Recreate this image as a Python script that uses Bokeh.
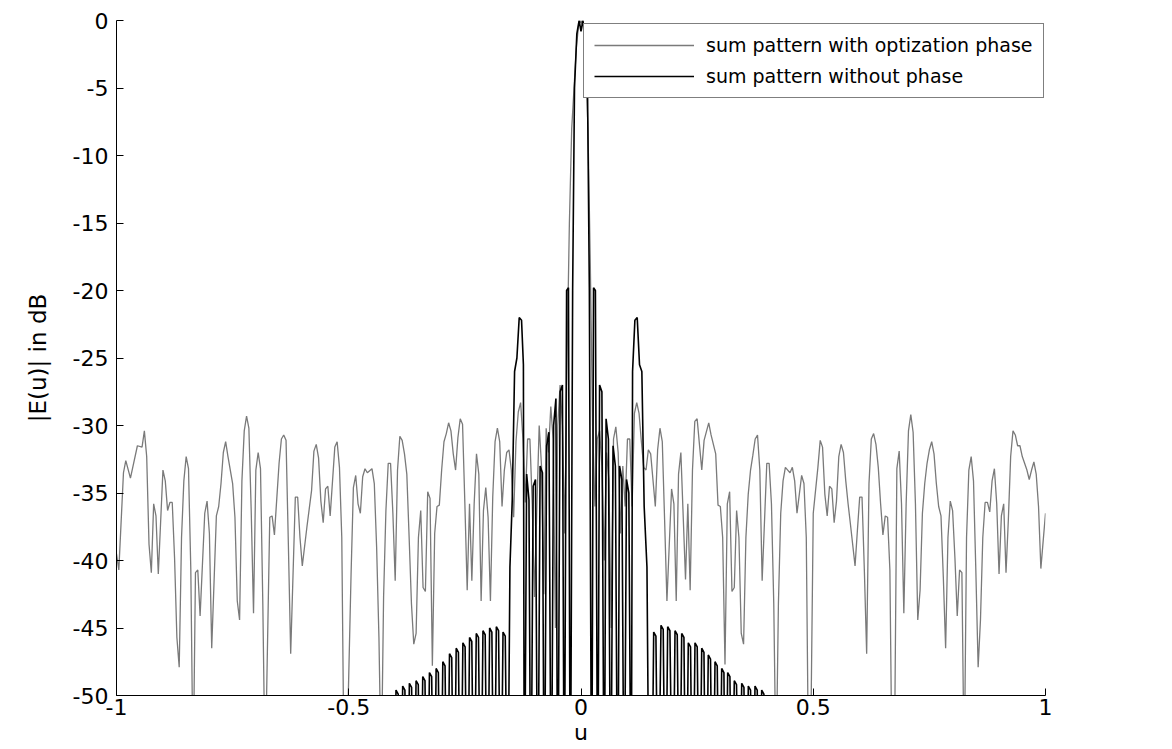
from bokeh.plotting import figure
from bokeh.models import Range1d, Legend, LegendItem
from bokeh.embed import file_html
from bokeh.resources import INLINE

# ---------------- data ----------------
# series 1: sum pattern with optization phase (gray)
opt_u = [
    -1.0, -0.995, -0.985, -0.98, -0.97, -0.955, -0.945, -0.94, -0.935, -0.93,
    -0.925, -0.92, -0.915, -0.91, -0.9, -0.895, -0.89, -0.885, -0.88, -0.875,
    -0.87, -0.865, -0.86, -0.855, -0.85, -0.845, -0.84, -0.835, -0.83, -0.825,
    -0.82, -0.81, -0.805, -0.8, -0.795, -0.785, -0.78, -0.775, -0.77, -0.765,
    -0.76, -0.75, -0.745, -0.74, -0.735, -0.73, -0.725, -0.72, -0.715, -0.71,
    -0.705, -0.7, -0.695, -0.69, -0.685, -0.68, -0.67, -0.665, -0.66, -0.65,
    -0.645, -0.64, -0.635, -0.63, -0.625, -0.615, -0.61, -0.605, -0.6, -0.59,
    -0.58, -0.575, -0.57, -0.565, -0.56, -0.555, -0.55, -0.545, -0.54, -0.53,
    -0.525, -0.52, -0.515, -0.51, -0.505, -0.495, -0.49, -0.485, -0.48, -0.475,
    -0.47, -0.465, -0.46, -0.45, -0.445, -0.44, -0.435, -0.43, -0.425, -0.42,
    -0.415, -0.41, -0.405, -0.4, -0.395, -0.39, -0.385, -0.38, -0.375, -0.37,
    -0.365, -0.36, -0.355, -0.35, -0.345, -0.34, -0.335, -0.33, -0.325, -0.32,
    -0.315, -0.31, -0.305, -0.3, -0.295, -0.29, -0.285, -0.28, -0.275, -0.27,
    -0.265, -0.26, -0.255, -0.25, -0.245, -0.24, -0.235, -0.23, -0.225, -0.22,
    -0.215, -0.21, -0.205, -0.2, -0.195, -0.19, -0.185, -0.18, -0.175, -0.17,
    -0.165, -0.16, -0.155, -0.15, -0.145, -0.14, -0.135, -0.13, -0.125, -0.12,
    -0.115, -0.11, -0.105, -0.1, -0.095, -0.09, -0.085, -0.08, -0.075, -0.07,
    -0.065, -0.06, -0.055, -0.05, -0.045, -0.04, -0.035, -0.03, -0.025, -0.02,
    -0.015, -0.01, -0.005, 0.0, 0.005, 0.01, 0.015, 0.02, 0.025, 0.03,
    0.035, 0.04, 0.045, 0.05, 0.055, 0.06, 0.065, 0.07, 0.075, 0.08,
    0.085, 0.09, 0.095, 0.1, 0.105, 0.11, 0.115, 0.12, 0.125, 0.13,
    0.135, 0.14, 0.145, 0.15, 0.16, 0.165, 0.17, 0.175, 0.18, 0.185,
    0.195, 0.2, 0.205, 0.21, 0.215, 0.225, 0.23, 0.235, 0.24, 0.245,
    0.25, 0.255, 0.26, 0.265, 0.275, 0.28, 0.29, 0.295, 0.3, 0.305,
    0.31, 0.315, 0.32, 0.325, 0.33, 0.335, 0.34, 0.345, 0.35, 0.355,
    0.36, 0.365, 0.37, 0.375, 0.38, 0.385, 0.39, 0.4, 0.405, 0.41,
    0.415, 0.42, 0.425, 0.43, 0.435, 0.44, 0.445, 0.45, 0.455, 0.46,
    0.465, 0.475, 0.48, 0.485, 0.49, 0.495, 0.5, 0.51, 0.515, 0.52,
    0.525, 0.53, 0.535, 0.54, 0.545, 0.55, 0.555, 0.56, 0.565, 0.57,
    0.575, 0.58, 0.59, 0.595, 0.6, 0.605, 0.61, 0.615, 0.62, 0.625,
    0.63, 0.635, 0.64, 0.645, 0.65, 0.655, 0.66, 0.665, 0.67, 0.675,
    0.68, 0.685, 0.69, 0.695, 0.7, 0.705, 0.71, 0.715, 0.72, 0.725,
    0.73, 0.735, 0.74, 0.745, 0.75, 0.755, 0.76, 0.765, 0.77, 0.775,
    0.78, 0.785, 0.79, 0.795, 0.8, 0.805, 0.81, 0.815, 0.82, 0.825,
    0.83, 0.835, 0.84, 0.845, 0.85, 0.855, 0.86, 0.865, 0.87, 0.875,
    0.88, 0.885, 0.89, 0.895, 0.9, 0.905, 0.91, 0.915, 0.92, 0.925,
    0.93, 0.935, 0.94, 0.945, 0.95, 0.96, 0.965, 0.97, 0.975, 0.98,
    0.985, 0.99, 1.0,
]
opt_db = [
    -39.5, -40.7, -33.5, -32.6, -33.9, -31.5, -31.6, -30.4, -32.3, -38.8,
    -40.9, -35.8, -36.7, -41.0, -33.3, -34.1, -36.3, -35.7, -35.7, -39.8,
    -45.7, -47.9, -38.3, -34.1, -32.3, -33.2, -40.7, -56.0, -40.9, -40.7,
    -44.1, -36.5, -35.6, -38.0, -46.5, -36.7, -36.0, -34.3, -32.0, -31.2,
    -32.3, -34.3, -36.8, -43.0, -44.4, -34.1, -30.4, -29.3, -30.2, -36.3,
    -43.9, -33.3, -32.0, -33.2, -43.2, -56.0, -36.8, -36.7, -38.1, -32.8,
    -31.0, -30.7, -31.1, -38.8, -46.9, -35.3, -35.3, -38.3, -40.4, -37.5,
    -34.8, -31.9, -31.4, -32.4, -35.6, -37.2, -34.7, -34.5, -36.7, -31.6,
    -31.2, -33.1, -38.3, -56.0, -56.0, -41.0, -34.6, -33.7, -35.8, -36.5,
    -33.8, -33.2, -33.5, -33.2, -34.3, -39.0, -45.7, -56.0, -42.7, -36.3,
    -32.8, -32.8, -36.5, -41.5, -33.3, -30.8, -31.1, -32.1, -33.6, -38.3,
    -43.2, -46.2, -45.4, -38.3, -36.3, -42.0, -42.3, -34.9, -35.4, -47.8,
    -38.0, -36.0, -35.9, -33.3, -31.2, -30.6, -29.8, -30.4, -32.1, -33.3,
    -30.9, -29.5, -29.9, -35.8, -42.2, -35.8, -41.5, -35.8, -32.1, -33.6,
    -43.0, -36.3, -34.6, -36.8, -43.0, -35.3, -31.2, -30.2, -31.2, -36.0,
    -33.3, -32.0, -31.8, -33.3, -36.8, -31.2, -29.0, -28.3, -31.0, -35.7,
    -31.0, -31.0, -35.8, -42.7, -36.0, -30.0, -33.0, -42.5, -30.2, -32.0,
    -28.6, -31.0, -45.0, -30.0, -27.0, -30.0, -38.0, -25.0, -15.0, -8.0,
    -5.0, -2.0, -0.3, 0.0, -0.5, -3.0, -8.0, -18.0, -30.0, -36.0,
    -31.0, -30.4, -33.0, -40.0, -32.0, -34.0, -45.0, -31.0, -30.1, -32.0,
    -38.0, -33.0, -36.0, -31.0, -31.0, -36.0, -29.1, -28.3, -29.1, -31.2,
    -33.1, -33.3, -31.8, -32.1, -36.0, -31.8, -30.2, -31.2, -37.0, -43.0,
    -34.7, -35.8, -43.0, -33.6, -32.0, -41.4, -35.8, -42.2, -33.3, -29.7,
    -29.5, -31.4, -33.3, -31.1, -29.8, -30.7, -32.1, -35.9, -36.0, -38.3,
    -47.7, -35.8, -34.9, -42.3, -42.0, -36.3, -38.3, -45.4, -46.2, -38.3,
    -35.1, -33.3, -32.2, -31.0, -30.7, -33.3, -41.5, -32.8, -32.8, -35.8,
    -43.2, -56.0, -43.2, -36.5, -34.1, -33.1, -33.3, -33.5, -33.1, -34.1,
    -36.5, -33.7, -34.3, -38.3, -56.0, -52.0, -36.5, -33.1, -31.1, -31.6,
    -35.1, -36.7, -34.5, -34.7, -37.2, -35.6, -32.3, -31.4, -32.0, -34.1,
    -35.8, -37.3, -40.4, -37.8, -35.3, -35.3, -40.7, -46.9, -34.3, -31.0,
    -30.6, -31.4, -33.1, -35.8, -38.1, -36.7, -36.8, -40.7, -57.0, -54.0,
    -33.2, -31.9, -35.8, -43.9, -35.8, -30.4, -29.2, -30.5, -35.8, -44.4,
    -42.2, -36.5, -34.3, -32.8, -31.8, -31.2, -32.1, -34.3, -36.0, -36.7,
    -41.2, -46.5, -38.3, -35.6, -36.3, -39.8, -44.1, -40.7, -40.9, -56.0,
    -38.3, -33.3, -32.3, -34.1, -40.7, -47.9, -44.4, -38.3, -35.7, -35.7,
    -36.4, -34.1, -33.2, -35.8, -41.0, -36.7, -35.8, -40.9, -37.0, -32.3,
    -30.4, -30.7, -31.5, -31.5, -32.3, -33.3, -34.0, -33.3, -32.7, -33.6,
    -36.0, -40.6, -36.5,
]

# series 2: sum pattern without phase (black)
nophase_u = [
    -0.4175, -0.4127, -0.4079, -0.4031, -0.3983, -0.3935, -0.3887, -0.3839, -0.3791,
    -0.3743, -0.3695, -0.3647, -0.3599, -0.3551, -0.3503, -0.3455, -0.3407, -0.3359,
    -0.3311, -0.3263, -0.3215, -0.3167, -0.3119, -0.3071, -0.3023, -0.2975, -0.2927,
    -0.2879, -0.2831, -0.2783, -0.2735, -0.2687, -0.2639, -0.2591, -0.2543, -0.2495,
    -0.2447, -0.2399, -0.2351, -0.2303, -0.2255, -0.2207, -0.2159, -0.2111, -0.2063,
    -0.2015, -0.1967, -0.1919, -0.1871, -0.1823, -0.1775, -0.1727, -0.1679, -0.1631,
    -0.158, -0.153, -0.148, -0.143, -0.138, -0.133, -0.128, -0.124, -0.122,
    -0.117, -0.112, -0.108, -0.103, -0.098, -0.093, -0.088, -0.083, -0.079,
    -0.074, -0.069, -0.064, -0.059, -0.054, -0.050, -0.045, -0.040, -0.036,
    -0.031, -0.027, -0.023, -0.018, -0.014, -0.009, -0.004, 0.0, 0.004,
    0.009, 0.014, 0.018, 0.023, 0.027, 0.031, 0.036, 0.040, 0.045,
    0.050, 0.054, 0.059, 0.064, 0.069, 0.074, 0.079, 0.083, 0.088,
    0.093, 0.098, 0.103, 0.108, 0.111, 0.116, 0.121, 0.126, 0.131,
    0.136, 0.142, 0.147,
    0.1517, 0.1565, 0.1613, 0.1661, 0.1722, 0.1770, 0.1818, 0.1866, 0.1914,
    0.1976, 0.2024, 0.2072, 0.2120, 0.2168, 0.2216, 0.2262, 0.2310, 0.2358,
    0.2406, 0.2454, 0.2502, 0.2551, 0.2599, 0.2647, 0.2692, 0.2740, 0.2788,
    0.2837, 0.2885, 0.2933, 0.2981, 0.3029, 0.3077, 0.3110, 0.3158, 0.3206,
    0.3252, 0.3300, 0.3348, 0.3412, 0.3460, 0.3508, 0.3554, 0.3602, 0.3650,
    0.3698, 0.3746, 0.3794, 0.3842, 0.3890, 0.3938, 0.3984, 0.4032, 0.4080,
    0.4128,
]
nophase_db = [
    -62, -50.0, -50.3, -62, -49.6, -49.9, -62, -49.3, -49.6,
    -62, -49.1, -49.4, -62, -48.9, -49.2, -62, -48.6, -48.9,
    -62, -48.3, -48.6, -62, -48.0, -48.3, -62, -47.5, -47.8,
    -62, -46.9, -47.2, -62, -46.5, -46.8, -62, -46.1, -46.4,
    -62, -45.7, -46.0, -62, -45.4, -45.7, -62, -45.2, -45.5,
    -62, -45.0, -45.3, -62, -44.9, -45.2, -62, -45.3, -45.6,
    -62, -40.5, -35.5, -26.0, -25.0, -22.0, -22.2, -25.5, -62,
    -33.6, -35.5, -62, -34.5, -34.0, -62, -33.0, -33.5, -62,
    -31.5, -30.5, -62, -30.0, -28.0, -62, -27.5, -27.0, -62,
    -20.0, -19.8, -62, -20.0, -5.0, -1.0, 0.0, -0.8, 0.0,
    -1.0, -5.0, -20.0, -62, -19.8, -20.0, -62, -27.0, -27.5,
    -62, -29.5, -31.0, -62, -31.5, -33.0, -62, -33.0, -34.0,
    -62, -34.0, -35.0, -62, -26.0, -22.2, -22.0, -25.5, -26.0,
    -36.0, -40.5, -62,
    -62, -45.3, -45.6, -62, -44.8, -45.1, -62, -44.9, -45.2,
    -62, -45.2, -45.5, -62, -45.4, -45.7, -62, -46.1, -46.4,
    -62, -46.1, -46.4, -62, -46.5, -46.8, -62, -47.0, -47.3,
    -62, -47.5, -47.8, -62, -48.0, -48.3, -62, -48.3, -48.6,
    -62, -48.9, -49.2, -62, -49.1, -49.4, -62, -49.3, -49.6,
    -62, -49.3, -49.6, -62, -49.6, -49.9, -62, -50.0, -50.3,
    -62,
]

x_ticks = [-1, -0.5, 0, 0.5, 1]
x_tick_labels = ["-1", "-0.5", "0", "0.5", "1"]
y_ticks = [-50, -45, -40, -35, -30, -25, -20, -15, -10, -5, 0]
y_tick_labels = ["-50", "-45", "-40", "-35", "-30", "-25", "-20", "-15", "-10", "-5", "0"]
legend_labels = ["sum pattern with optization phase", "sum pattern without phase"]

FONT = "DejaVu Sans"

p = figure(frame_width=929, frame_height=675, output_backend="svg", toolbar_location=None,
           x_range=Range1d(-1, 1), y_range=Range1d(-50, 0),
           min_border_left=116, min_border_right=125, min_border_top=20,
           min_border_bottom=50)
p.outline_line_color = None
p.background_fill_color = "white"
p.border_fill_color = "white"
p.xgrid.visible = False
p.ygrid.visible = False

r_opt = p.line(opt_u, opt_db, line_color="#7a7a7a", line_width=1.3)
r_no = p.line(nophase_u, nophase_db, line_color="black", line_width=1.6)

for ax in (p.xaxis[0], p.yaxis[0]):
    ax.axis_line_color = "black"
    ax.axis_line_width = 1
    ax.major_tick_in = 7
    ax.major_tick_out = 0
    ax.minor_tick_line_color = None
    ax.major_tick_line_color = "black"
    ax.major_label_text_font = FONT
    ax.major_label_text_font_size = "22px"
    ax.major_label_text_color = "black"
    ax.axis_label_text_font = FONT
    ax.axis_label_text_font_style = "normal"
    ax.axis_label_text_color = "black"

p.xaxis.ticker = x_ticks
p.xaxis.major_label_overrides = {t: l for t, l in zip(x_ticks, x_tick_labels)}
p.xaxis.major_label_standoff = 3
p.xaxis.axis_label = "u"
p.xaxis.axis_label_text_font_size = "22px"
p.xaxis.axis_label_standoff = 2

p.yaxis.ticker = y_ticks
p.yaxis.major_label_overrides = {t: l for t, l in zip(y_ticks, y_tick_labels)}
p.yaxis.major_label_standoff = 8
p.yaxis.axis_label = "|E(u)| in dB"
p.yaxis.axis_label_text_font_size = "23px"
p.yaxis.axis_label_standoff = 19

legend = Legend(items=[LegendItem(label=legend_labels[0], renderers=[r_opt]),
                       LegendItem(label=legend_labels[1], renderers=[r_no])],
                location=(467, 597), orientation="vertical")
legend.border_line_color = "black"
legend.border_line_width = 1
legend.background_fill_color = "white"
legend.background_fill_alpha = 1
legend.label_text_font = FONT
legend.label_text_font_size = "19px"
legend.label_text_color = "black"
legend.glyph_width = 100
legend.glyph_height = 22
legend.label_height = 22
legend.label_standoff = 12
legend.spacing = 9
legend.padding = 10
legend.margin = 0
p.add_layout(legend)

open("out.html", "w").write(file_html(p, INLINE))
